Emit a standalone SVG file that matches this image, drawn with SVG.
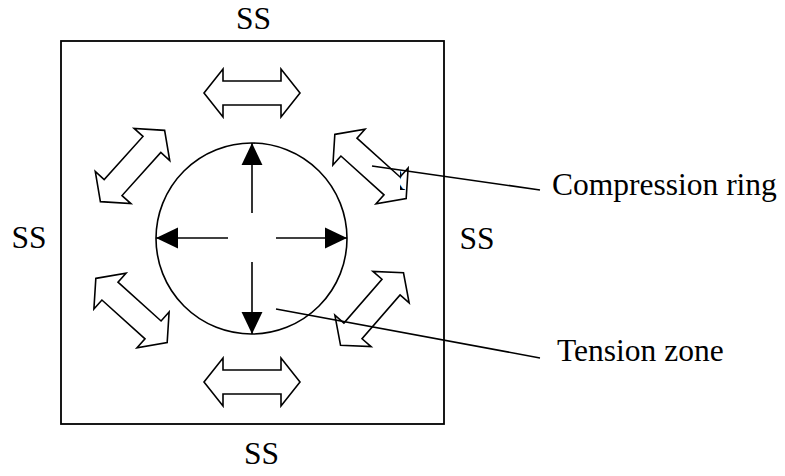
<svg xmlns="http://www.w3.org/2000/svg" width="785" height="476" viewBox="0 0 785 476">
<style>
text{font-family:"Liberation Serif","Times New Roman",serif;font-size:31.5px;fill:#000}
.dbl{fill:#fff;stroke:#000;stroke-width:1.6;stroke-linejoin:miter}
.ln{stroke:#000;stroke-width:1.6;fill:none}
</style>
<defs>
<polygon id="dbl" points="-48,0 -29,-24 -29,-12 29,-12 29,-24 48,0 29,24 29,12 -29,12 -29,24"/>
<marker id="ah" markerUnits="userSpaceOnUse" markerWidth="22" markerHeight="22" viewBox="0 -10 20 20" refX="20" refY="0" orient="auto">
<path d="M0,-9.5 L20,0 L0,9.5 Z" fill="#000"/>
</marker>
<clipPath id="rclip"><rect x="400" y="168" width="12" height="24"/></clipPath>
</defs>
<rect width="785" height="476" fill="#fff"/>
<g id="slab">
<rect x="61" y="41" width="383" height="383" fill="#fff" stroke="#000" stroke-width="1.8"/>
</g>
<g id="labels-ss">
<text x="253.5" y="29" text-anchor="middle">SS</text>
<text x="29" y="248" text-anchor="middle">SS</text>
<text x="477" y="249" text-anchor="middle">SS</text>
<text x="261.5" y="464" text-anchor="middle">SS</text>
</g>
<g id="compression-arrows">
<use href="#dbl" class="dbl" transform="translate(252,93)"/>
<use href="#dbl" class="dbl" transform="translate(252,382)"/>
<use href="#dbl" class="dbl" transform="translate(132.5,166) rotate(-48)"/>
<use href="#dbl" class="dbl" transform="translate(370.5,166.5) rotate(42)"/>
<use href="#dbl" class="dbl" transform="translate(131.5,310.5) rotate(42)"/>
<use href="#dbl" class="dbl" transform="translate(372,309) rotate(-49)"/>
</g>
<g id="r-fragment" clip-path="url(#rclip)"><text x="384" y="190">R</text></g>
<g id="tension-zone">
<circle cx="251.5" cy="238.5" r="95.5" class="ln"/>
</g>
<g id="tension-arrows">
<line x1="252" y1="213" x2="252" y2="143" class="ln" marker-end="url(#ah)"/>
<line x1="228" y1="238" x2="156" y2="238" class="ln" marker-end="url(#ah)"/>
<line x1="276" y1="238" x2="347" y2="238" class="ln" marker-end="url(#ah)"/>
<line x1="252" y1="262" x2="252" y2="334" class="ln" marker-end="url(#ah)"/>
</g>
<g id="connectors">
<line x1="372" y1="166" x2="540" y2="190" class="ln"/>
<line x1="276" y1="309" x2="540" y2="358" class="ln"/>
</g>
<g id="callouts">
<text x="552" y="195">Compression ring</text>
<text x="557" y="361">Tension zone</text>
</g>
</svg>
